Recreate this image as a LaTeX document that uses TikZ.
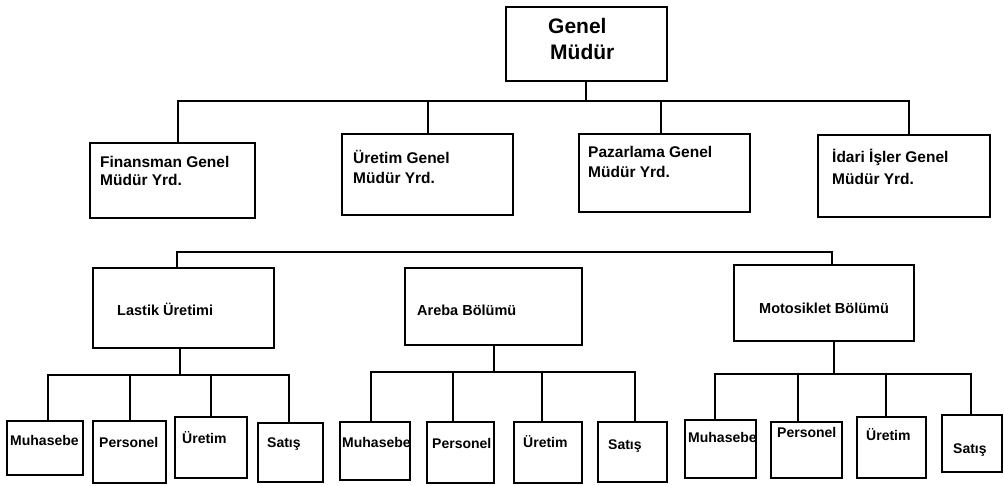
\documentclass[tikz,border=0pt]{standalone}
\usepackage{fontspec}
\setmainfont{Liberation Sans}
\begin{document}
\begin{tikzpicture}[x=1pt,y=-1pt,
  box/.style={draw, line width=1.8pt, inner sep=0pt, outer sep=0pt, anchor=north west},
  link/.style={line width=2pt},
  lbl/.style={inner sep=0pt, anchor=base west},
  top/.style={lbl, font=\fontsize{21}{26}\selectfont\bfseries},
  mid/.style={lbl, font=\fontsize{15.5}{19}\selectfont\bfseries},
  dept/.style={lbl, font=\fontsize{14.5}{17}\selectfont\bfseries},
  unit/.style={lbl, font=\fontsize{14}{16}\selectfont\bfseries}]
\useasboundingbox (0,0) rectangle (1004,485);

% ---- general manager ----
\node[box, minimum width=161pt, minimum height=74pt] (gm) at (506,7) {};
\node[top] (gmt1) at (548,33) {Genel};
\node[top] (gmt2) at (550,59) {Müdür};

% ---- deputy general managers ----
\node[box, minimum width=165pt, minimum height=75pt] (fin) at (90,143) {};
\node[box, minimum width=171pt, minimum height=81pt] (ure) at (342,134) {};
\node[box, minimum width=171pt, minimum height=78pt] (paz) at (579,134) {};
\node[box, minimum width=172pt, minimum height=82pt] (ida) at (818,135) {};
\node[mid] (fint1) at (100,167) {Finansman Genel};
\node[mid] (fint2) at (100,185) {Müdür Yrd.};
\node[mid] (uret1) at (353,163) {Üretim Genel};
\node[mid] (uret2) at (353,183) {Müdür Yrd.};
\node[mid] (pazt1) at (588,157) {Pazarlama Genel};
\node[mid] (pazt2) at (588,177) {Müdür Yrd.};
\node[mid] (idat1) at (832,162) {İdari İşler Genel};
\node[mid] (idat2) at (832,184) {Müdür Yrd.};

% ---- divisions ----
\node[box, minimum width=181pt, minimum height=80pt] (las) at (93,268) {};
\node[box, minimum width=177pt, minimum height=77pt] (are) at (405,268) {};
\node[box, minimum width=180pt, minimum height=76pt] (mot) at (734,265) {};
\node[dept] (last) at (117,315) {Lastik Üretimi};
\node[dept] (aret) at (417,315) {Areba Bölümü};
\node[dept] (mott) at (759,313) {Motosiklet Bölümü};

% ---- departments of the tyre division ----
\node[box, minimum width=76pt, minimum height=54pt] (m1) at (7,421) {};
\node[box, minimum width=73pt, minimum height=62pt] (p1) at (93,421) {};
\node[box, minimum width=72pt, minimum height=61pt] (u1) at (175,417) {};
\node[box, minimum width=65pt, minimum height=59pt] (s1) at (258,423) {};
\node[unit] (m1t) at (10,445) {Muhasebe};
\node[unit] (p1t) at (99,447) {Personel};
\node[unit] (u1t) at (182,443) {Üretim};
\node[unit] (s1t) at (267,447) {Satış};

% ---- departments of the car division ----
\node[box, minimum width=70pt, minimum height=58pt] (m2) at (340,422) {};
\node[box, minimum width=67pt, minimum height=61pt] (p2) at (427,422) {};
\node[box, minimum width=68pt, minimum height=61pt] (u2) at (514,422) {};
\node[box, minimum width=69pt, minimum height=60pt] (s2) at (598,422) {};
\node[unit] (m2t) at (342,447) {Muhasebe};
\node[unit] (p2t) at (432,448) {Personel};
\node[unit] (u2t) at (523,447) {Üretim};
\node[unit] (s2t) at (608,449) {Satış};

% ---- departments of the motorcycle division ----
\node[box, minimum width=71pt, minimum height=58pt] (m3) at (685,420) {};
\node[box, minimum width=71pt, minimum height=56pt] (p3) at (771,422) {};
\node[box, minimum width=69pt, minimum height=61pt] (u3) at (857,417) {};
\node[box, minimum width=60pt, minimum height=57pt] (s3) at (942,415) {};
\node[unit] (m3t) at (688,442) {Muhasebe};
\node[unit] (p3t) at (777,437) {Personel};
\node[unit] (u3t) at (866,440) {Üretim};
\node[unit] (s3t) at (953,453) {Satış};

% ---- connectors: top level ----
\coordinate (b1) at (586,101);
\draw[link] (gm.south -| b1) -- (b1);
\draw[link] ([xshift=5.5pt]fin.north) |- (b1);
\draw[link] ([xshift=5pt]ida.north) |- (b1);
\draw[link] ([xshift=0.5pt]ure.north) |- (b1);
\draw[link] ([xshift=-3.5pt]paz.north) |- (b1);

% ---- connectors: divisions ----
\coordinate (b2) at (832,252);
\draw[link] ([xshift=-6.5pt]las.north) |- (b2) -- (b2 |- mot.north);

% ---- connectors: tyre division ----
\coordinate (g1) at (180,375);
\draw[link] (las.south -| g1) -- (g1);
\draw[link] ([xshift=3pt]m1.north) |- (g1);
\draw[link] ([xshift=0.5pt]p1.north) |- (g1);
\draw[link] (u1.north) |- (g1);
\draw[link] ([xshift=-1.5pt]s1.north) |- (g1);

% ---- connectors: car division ----
\coordinate (g2) at (494,372);
\draw[link] (are.south -| g2) -- (g2);
\draw[link] ([xshift=-4pt]m2.north) |- (g2);
\draw[link] ([xshift=-7.5pt]p2.north) |- (g2);
\draw[link] ([xshift=-6pt]u2.north) |- (g2);
\draw[link] ([xshift=2.5pt]s2.north) |- (g2);

% ---- connectors: motorcycle division ----
\coordinate (g3) at (834,374);
\draw[link] (mot.south -| g3) -- (g3);
\draw[link] ([xshift=-5.5pt]m3.north) |- (g3);
\draw[link] ([xshift=-8.5pt]p3.north) |- (g3);
\draw[link] ([xshift=-5.5pt]u3.north) |- (g3);
\draw[link] ([xshift=-1pt]s3.north) |- (g3);
\end{tikzpicture}
\end{document}
